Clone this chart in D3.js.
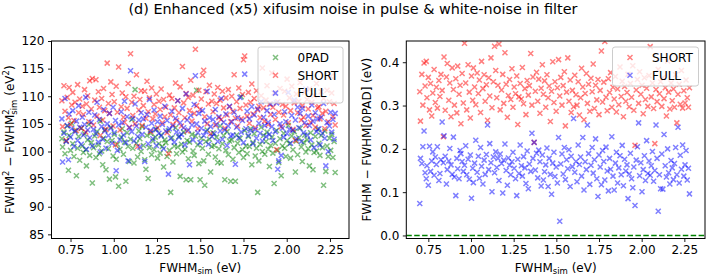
<!DOCTYPE html>
<html>
<head>
<meta charset="utf-8">
<script src="https://cdn.jsdelivr.net/npm/d3@7"></script>
<style>
body{margin:0;background:#fff}
text{font-family:"DejaVu Sans",sans-serif;fill:#000}
</style>
</head>
<body>
<svg id="fig" width="706" height="278"></svg>
<script>
// simulated FWHM (eV), shared by every series
var fwhmSim = [
0.700,0.704,0.712,0.718,0.725,0.731,0.738,0.742,0.750,0.757,
0.763,0.770,0.776,0.784,0.791,0.797,0.803,0.812,0.818,0.824,
0.831,0.838,0.842,0.849,0.856,0.861,0.870,0.876,0.883,0.890,
0.897,0.903,0.911,0.917,0.922,0.930,0.936,0.941,0.948,0.955,
0.962,0.969,0.975,0.983,0.990,0.996,1.003,1.010,1.014,1.021,
1.028,1.036,1.043,1.049,1.056,1.062,1.070,1.077,1.083,1.090,
1.097,1.104,1.110,1.117,1.123,1.131,1.138,1.145,1.151,1.158,
1.164,1.171,1.179,1.186,1.192,1.199,1.206,1.213,1.219,1.226,
1.233,1.240,1.246,1.253,1.261,1.268,1.274,1.281,1.288,1.295,
1.301,1.308,1.316,1.322,1.329,1.336,1.342,1.350,1.357,1.363,
1.370,1.377,1.384,1.391,1.397,1.404,1.411,1.418,1.424,1.431,
1.438,1.445,1.452,1.458,1.465,1.472,1.479,1.486,1.492,1.499,
1.506,1.513,1.520,1.526,1.533,1.540,1.547,1.553,1.560,1.567,
1.574,1.581,1.587,1.594,1.601,1.608,1.615,1.621,1.628,1.635,
1.642,1.648,1.655,1.662,1.669,1.676,1.682,1.689,1.696,1.703,
1.710,1.716,1.723,1.730,1.737,1.744,1.750,1.757,1.764,1.771,
1.778,1.784,1.791,1.798,1.805,1.812,1.818,1.825,1.832,1.839,
1.846,1.852,1.859,1.866,1.873,1.880,1.886,1.893,1.900,1.907,
1.914,1.920,1.927,1.934,1.941,1.948,1.954,1.961,1.968,1.975,
1.982,1.988,1.995,2.002,2.009,2.016,2.022,2.029,2.036,2.043,
2.050,2.056,2.063,2.070,2.077,2.084,2.090,2.097,2.104,2.111,
2.118,2.124,2.131,2.138,2.145,2.152,2.158,2.165,2.172,2.179,
2.186,2.192,2.199,2.206,2.213,2.220,2.226,2.233,2.240,2.247,
2.254,2.260,2.267,2.274,2.280];

// left panel: FWHM^2 - FWHMsim^2 (eV^2)
var left0pad = [
102.3,100.8,103.5,99.6,101.9,104.6,96.6,102.9,100.2,105.1,
101.4,99.1,103.8,95.6,100.6,102.7,98.4,104.2,101.0,99.8,
103.2,100.3,97.4,102.1,104.9,99.3,101.6,94.3,100.7,102.8,
98.9,103.6,101.2,99.6,105.5,100.1,97.6,102.4,103.9,96.7,
101.8,100.5,95.0,104.4,102.0,99.2,103.1,95.4,98.6,101.3,
93.7,100.4,102.6,104.1,99.5,101.7,94.6,103.4,100.9,98.2,
102.2,105.8,100.6,97.9,111.2,101.5,99.0,103.7,102.3,100.0,
104.5,101.1,98.5,96.8,102.9,95.1,100.7,103.3,99.4,101.9,
100.3,102.6,104.0,98.8,101.4,99.7,103.0,100.9,97.2,102.1,
101.6,99.1,103.8,100.2,92.6,102.5,98.1,101.0,104.3,99.6,
100.8,102.7,95.5,101.3,99.9,103.5,100.4,94.9,102.0,98.7,
101.7,94.9,103.1,100.1,99.3,102.8,111.1,101.2,97.8,94.9,
102.4,100.6,98.3,93.9,101.8,103.9,99.5,102.2,96.3,100.9,
103.4,101.1,99.0,102.6,98.0,100.5,104.6,97.9,101.4,102.9,
94.9,100.2,103.6,99.4,101.9,94.6,102.1,98.6,100.7,94.6,
103.0,101.5,99.8,102.4,109.9,100.3,98.9,103.8,101.0,99.6,
102.7,100.9,104.1,97.6,101.6,103.2,99.2,100.6,92.6,98.3,
101.3,104.4,100.0,102.9,99.5,101.8,103.5,100.4,97.3,101.1,
102.6,99.7,94.2,101.5,103.8,100.2,98.0,102.3,95.6,101.0,
103.3,100.6,99.1,102.0,104.7,101.4,98.8,102.8,100.3,103.6,
96.3,101.9,99.4,102.5,104.2,100.8,98.2,101.6,103.0,99.9,
102.1,100.5,97.4,103.4,101.2,96.7,99.8,102.7,100.1,104.0,
101.5,99.3,102.9,100.7,93.9,103.7,96.4,101.0,99.1,102.4,
100.2,103.1,98.9,101.8,96.2];

var leftShort = [
109.2,104.5,111.9,107.3,102.0,109.8,106.1,111.6,104.9,108.4,
110.7,105.6,108.9,103.8,112.1,107.0,109.5,104.2,108.2,106.7,
111.2,103.5,108.6,110.1,105.4,112.8,107.7,113.2,104.8,109.3,
113.0,106.4,110.8,108.0,102.9,109.6,105.7,111.4,107.4,104.0,
116.0,108.7,106.9,112.6,110.3,104.6,109.0,101.2,111.8,107.1,
115.3,103.9,108.1,110.6,106.2,105.3,109.9,107.8,112.3,104.4,
117.7,108.9,106.5,110.0,105.0,113.9,100.9,107.5,109.4,111.0,
104.7,108.3,110.9,106.0,112.7,107.2,109.7,103.6,111.5,105.9,
108.5,106.8,110.4,104.3,109.1,107.6,111.3,105.2,109.4,106.3,
108.0,103.4,99.6,110.2,106.6,109.6,104.9,107.9,112.4,105.6,
109.2,107.0,111.7,104.6,115.4,108.8,106.1,110.5,103.7,109.8,
107.4,112.9,105.5,110.2,106.9,118.5,108.3,104.1,111.1,107.6,
109.5,113.8,114.7,106.3,110.8,105.0,108.6,112.0,103.2,109.1,
107.2,110.4,104.8,108.7,111.6,106.1,109.3,105.8,110.9,107.9,
104.2,109.7,106.6,111.2,108.1,105.4,110.0,107.3,113.9,106.0,
109.0,104.6,111.5,107.8,105.9,110.3,116.6,117.3,108.4,106.4,
110.7,105.1,108.9,112.2,106.8,109.6,104.3,111.0,107.5,108.2,
106.1,110.1,115.1,107.9,105.5,109.3,111.9,104.9,108.6,106.7,
114.2,108.0,110.6,105.8,100.3,109.0,107.1,111.4,104.5,108.5,
106.6,110.9,108.2,113.1,105.2,109.7,107.4,111.8,104.0,108.8,
102.0,110.4,107.0,109.1,112.5,105.7,108.3,106.2,110.7,104.7,
109.4,107.7,111.3,105.3,108.9,106.5,110.1,104.4,112.3,107.9,
108.1,105.9,110.8,106.9,109.6,104.1,107.3,111.1,105.4,109.0,
113.6,110.6,106.3,108.7,104.8];

var leftFull = [
105.9,98.1,103.3,109.6,101.8,104.7,98.5,106.8,102.6,104.1,
107.4,100.9,103.6,105.5,102.0,108.3,104.4,101.3,106.2,103.0,
104.9,109.8,100.4,103.9,107.1,102.5,105.3,101.0,104.0,106.6,
103.2,108.9,101.7,105.8,99.9,104.5,102.2,107.6,103.7,100.6,
105.0,102.9,106.9,104.2,101.5,108.0,103.4,105.6,96.5,100.2,
104.8,102.1,107.2,105.2,103.0,109.1,101.6,106.3,98.3,104.3,
114.6,103.6,106.0,101.9,108.6,104.6,102.7,105.7,100.8,107.0,
103.1,105.9,98.2,104.4,106.7,101.4,109.4,103.8,105.1,102.3,
107.5,104.0,101.1,105.4,103.3,106.4,102.8,104.9,100.5,108.2,
103.7,105.6,95.9,104.1,102.4,107.3,104.6,101.7,106.0,103.5,
109.2,102.6,105.2,103.1,107.8,104.3,101.2,110.4,105.7,103.9,
97.6,106.5,104.8,102.1,108.5,113.7,105.0,103.4,106.9,101.6,
104.2,107.4,102.9,105.5,103.6,110.9,101.3,106.1,104.5,102.7,
105.8,103.2,107.6,104.9,101.8,106.3,103.7,109.6,102.2,105.3,
103.9,106.8,101.1,104.6,108.2,102.8,105.4,103.0,107.1,97.7,
104.4,106.1,102.5,109.8,103.5,105.6,101.6,114.0,104.1,107.3,
102.9,105.9,103.8,108.1,101.4,106.6,104.0,102.4,107.7,105.1,
103.3,109.0,101.9,106.2,104.7,102.7,107.4,105.3,103.1,108.6,
104.5,102.0,106.7,103.6,108.8,96.8,98.3,105.0,99.3,104.2,
102.6,107.2,105.4,103.2,110.7,104.0,101.5,106.5,103.8,109.3,
105.7,102.3,108.0,104.3,106.9,101.8,107.8,103.4,105.2,111.3,
103.0,106.4,104.7,102.1,108.4,105.5,100.7,107.0,103.6,105.9,
104.1,101.2,106.2,103.3,108.7,102.4,97.4,105.2,100.0,104.6,
107.1,103.5,105.8,102.2,106.9];

// right panel: FWHM - FWHM[0PAD] (eV)
var rightShort = [
0.332,0.264,0.372,0.301,0.398,0.345,0.402,0.318,0.365,0.290,
0.351,0.276,0.329,0.383,0.307,0.342,0.294,0.358,0.321,0.372,
0.335,0.228,0.412,0.289,0.366,0.397,0.312,0.352,0.274,0.387,
0.337,0.301,0.362,0.283,0.391,0.326,0.347,0.258,0.374,0.306,
0.444,0.352,0.290,0.394,0.331,0.271,0.368,0.312,0.387,0.343,
0.302,0.375,0.328,0.359,0.284,0.402,0.339,0.371,0.310,0.348,
0.266,0.364,0.322,0.410,0.295,0.355,0.437,0.381,0.318,0.347,
0.442,0.290,0.336,0.372,0.305,0.422,0.349,0.273,0.323,0.360,
0.314,0.385,0.296,0.343,0.327,0.368,0.256,0.320,0.351,0.315,
0.388,0.304,0.339,0.279,0.358,0.324,0.346,0.420,0.301,0.366,
0.215,0.333,0.377,0.310,0.361,0.282,0.340,0.394,0.326,0.357,
0.296,0.371,0.318,0.345,0.263,0.333,0.401,0.307,0.355,0.287,
0.341,0.406,0.322,0.365,0.301,0.346,0.378,0.253,0.331,0.410,
0.310,0.359,0.284,0.335,0.297,0.370,0.325,0.301,0.355,0.278,
0.318,0.386,0.343,0.267,0.328,0.374,0.305,0.349,0.287,0.363,
0.332,0.396,0.293,0.347,0.313,0.360,0.279,0.335,0.426,0.308,
0.354,0.448,0.319,0.288,0.362,0.330,0.376,0.296,0.342,0.315,
0.367,0.285,0.338,0.302,0.389,0.321,0.356,0.274,0.344,0.310,
0.330,0.372,0.297,0.351,0.319,0.392,0.289,0.208,0.336,0.360,
0.305,0.378,0.326,0.347,0.281,0.364,0.314,0.340,0.298,0.369,
0.436,0.320,0.352,0.293,0.212,0.337,0.309,0.383,0.327,0.355,
0.298,0.364,0.316,0.341,0.276,0.403,0.331,0.292,0.352,0.311,
0.338,0.296,0.371,0.260,0.326,0.349,0.303,0.381,0.294,0.334,
0.306,0.359,0.318,0.296,0.341];

var rightFull = [
0.074,0.178,0.166,0.205,0.241,0.145,0.131,0.161,0.116,0.206,
0.148,0.172,0.193,0.139,0.181,0.164,0.205,0.127,0.143,0.175,
0.262,0.168,0.230,0.183,0.119,0.152,0.172,0.201,0.163,0.141,
0.227,0.135,0.092,0.178,0.154,0.131,0.196,0.189,0.171,0.148,
0.162,0.207,0.140,0.176,0.130,0.186,0.086,0.155,0.122,0.167,
0.220,0.146,0.183,0.132,0.203,0.160,0.119,0.174,0.141,0.187,
0.255,0.152,0.212,0.168,0.101,0.181,0.145,0.193,0.157,0.178,
0.127,0.188,0.166,0.098,0.174,0.211,0.150,0.116,0.179,0.162,
0.140,0.170,0.192,0.155,0.131,0.092,0.176,0.143,0.209,0.161,
0.137,0.182,0.156,0.120,0.195,0.108,0.165,0.148,0.236,0.178,
0.215,0.151,0.190,0.133,0.197,0.170,0.114,0.186,0.128,0.147,
0.163,0.202,0.113,0.178,0.141,0.095,0.167,0.192,0.136,0.158,
0.121,0.226,0.033,0.165,0.188,0.142,0.203,0.129,0.175,0.154,
0.198,0.113,0.183,0.159,0.270,0.146,0.171,0.124,0.209,0.164,
0.181,0.137,0.226,0.105,0.170,0.152,0.255,0.189,0.118,0.162,
0.203,0.144,0.175,0.223,0.131,0.090,0.186,0.158,0.117,0.196,
0.171,0.128,0.204,0.149,0.103,0.178,0.153,0.228,0.137,0.105,
0.167,0.192,0.121,0.156,0.184,0.140,0.208,0.115,0.176,0.149,
0.163,0.085,0.142,0.190,0.131,0.110,0.158,0.069,0.174,0.205,
0.260,0.138,0.168,0.101,0.152,0.184,0.127,0.219,0.143,0.172,
0.139,0.161,0.194,0.125,0.150,0.255,0.178,0.056,0.140,0.108,
0.188,0.107,0.233,0.161,0.135,0.200,0.145,0.119,0.173,0.156,
0.129,0.166,0.203,0.140,0.250,0.121,0.185,0.153,0.209,0.137,
0.163,0.196,0.128,0.155,0.096];

var xTicks = [0.75, 1.00, 1.25, 1.50, 1.75, 2.00, 2.25];
var leftYTicks = [85, 90, 95, 100, 105, 110, 115, 120];
var rightYTicks = [0.0, 0.1, 0.2, 0.3, 0.4];

var svg = d3.select("#fig");
var FS = 12;

svg.append("text")
	.attr("x", 353).attr("y", 14)
	.attr("text-anchor", "middle")
	.style("font-size", "14.4px")
	.text("(d)  Enhanced (x5) xifusim noise in pulse & white-noise in filter");

var crossPath = "M-2.5,-2.5L2.5,2.5M-2.5,2.5L2.5,-2.5";

function drawPanel(p)
{
	var x = d3.scaleLinear().domain(p.xDomain).range([p.left, p.right]);
	var y = d3.scaleLinear().domain(p.yDomain).range([p.bottom, p.top]);
	var g = svg.append("g");

	var clipId = "clip" + p.name;
	svg.append("clipPath").attr("id", clipId).append("rect")
		.attr("x", p.left).attr("y", p.top)
		.attr("width", p.right - p.left).attr("height", p.bottom - p.top);

	var plot = g.append("g").attr("clip-path", "url(#" + clipId + ")");

	if (p.zeroLine) {
		plot.append("line")
			.attr("x1", p.left).attr("x2", p.right)
			.attr("y1", y(0)).attr("y2", y(0))
			.attr("stroke", "#008000").attr("stroke-width", 1.5)
			.attr("stroke-dasharray", "5.5,2.4");
	}

	p.series.forEach(function(s) {
		plot.append("g").selectAll("path")
			.data(s.values)
			.enter().append("path")
			.attr("d", crossPath)
			.attr("transform", function(d, i) { return "translate(" + x(fwhmSim[i]) + "," + y(d) + ")"; })
			.attr("fill", "none")
			.attr("stroke", s.color)
			.attr("stroke-width", 1.5)
			.attr("opacity", 0.5);
	});

	// axes
	var xAxis = d3.axisBottom(x).tickValues(xTicks).tickSize(3.5).tickPadding(3.5)
		.tickFormat(d3.format(".2f"));
	var yAxis = d3.axisLeft(y).tickValues(p.yTicks).tickSize(3.5).tickPadding(3.5)
		.tickFormat(p.yFormat);

	var gx = g.append("g").attr("transform", "translate(0," + p.bottom + ")").call(xAxis);
	var gy = g.append("g").attr("transform", "translate(" + p.left + ",0)").call(yAxis);
	[gx, gy].forEach(function(a) {
		a.select(".domain").remove();
		a.selectAll("line").attr("stroke", "#000").attr("stroke-width", 0.9);
		a.selectAll("text").style("font-size", FS + "px").style("font-family", "DejaVu Sans");
	});

	g.append("rect")
		.attr("x", p.left).attr("y", p.top)
		.attr("width", p.right - p.left).attr("height", p.bottom - p.top)
		.attr("fill", "none").attr("stroke", "#000").attr("stroke-width", 1);

	// x label
	var xl = g.append("text")
		.attr("x", (p.left + p.right) / 2).attr("y", 271.5)
		.attr("text-anchor", "middle").style("font-size", FS + "px");
	xl.append("tspan").text("FWHM");
	xl.append("tspan").attr("dy", 2.5).style("font-size", "8.5px").text("sim");
	xl.append("tspan").attr("dy", -2.5).text(" (eV)");

	// y label
	var yl = g.append("text")
		.attr("transform", "translate(" + p.yLabelX + "," + ((p.top + p.bottom) / 2) + ") rotate(-90)")
		.attr("text-anchor", "middle").style("font-size", FS + "px");
	p.yLabel(yl);

	// legend
	var lg = g.append("g");
	lg.append("rect")
		.attr("x", p.legend.x).attr("y", p.legend.y)
		.attr("width", p.legend.w).attr("height", p.legend.h)
		.attr("rx", 2.5)
		.attr("fill", "#fff").attr("fill-opacity", 0.8)
		.attr("stroke", "#cccccc").attr("stroke-width", 1);
	p.series.forEach(function(s, i) {
		var cy = p.legend.y + 10.5 + i * 17.8;
		lg.append("path")
			.attr("d", crossPath)
			.attr("transform", "translate(" + (p.legend.x + 17.5) + "," + cy + ")")
			.attr("fill", "none").attr("stroke", s.color)
			.attr("stroke-width", 1.5).attr("opacity", 0.5);
		lg.append("text")
			.attr("x", p.legend.x + 39.5).attr("y", cy + 4.3)
			.style("font-size", FS + "px")
			.text(s.label);
	});
}

drawPanel({
	name: "L",
	left: 51.5, right: 349, top: 41, bottom: 238.5,
	xDomain: [0.64, 2.36], yDomain: [84.25, 120],
	yTicks: leftYTicks, yFormat: d3.format("d"),
	yLabelX: 13.5,
	yLabel: function(t) {
		t.append("tspan").text("FWHM");
		t.append("tspan").attr("dy", -4.5).style("font-size", "8.5px").text("2");
		t.append("tspan").attr("dy", 4.5).text(" \u2212 FWHM");
		t.append("tspan").attr("dy", -4.5).style("font-size", "8.5px").text("2");
		t.append("tspan").attr("dx", -5.4).attr("dy", 7.5).style("font-size", "8.5px").text("sim");
		t.append("tspan").attr("dy", -3).text(" (eV");
		t.append("tspan").attr("dy", -4.5).style("font-size", "8.5px").text("2");
		t.append("tspan").attr("dy", 4.5).text(")");
	},
	legend: { x: 258, y: 47, w: 85, h: 56 },
	series: [
		{ label: "0PAD", color: "#008000", values: left0pad },
		{ label: "SHORT", color: "#ff0000", values: leftShort },
		{ label: "FULL", color: "#0000ff", values: leftFull }
	]
});

drawPanel({
	name: "R",
	left: 406.3, right: 705, top: 41, bottom: 238.5,
	xDomain: [0.621, 2.371], yDomain: [-0.007, 0.449],
	yTicks: rightYTicks, yFormat: d3.format(".1f"),
	yLabelX: 371,
	zeroLine: true,
	yLabel: function(t) {
		t.text("FWHM \u2212 FWHM[0PAD] (eV)");
	},
	legend: { x: 612.5, y: 47, w: 86, h: 39 },
	series: [
		{ label: "SHORT", color: "#ff0000", values: rightShort },
		{ label: "FULL", color: "#0000ff", values: rightFull }
	]
});
</script>
</body>
</html>
